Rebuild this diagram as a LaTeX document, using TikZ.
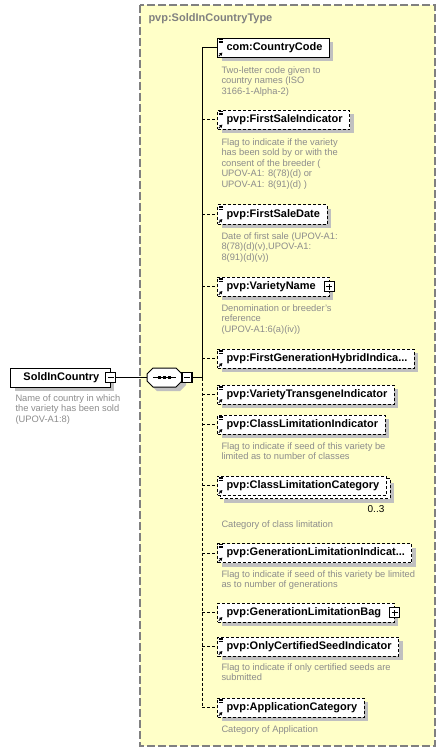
\documentclass[tikz,border=0pt]{standalone}
\usepackage{fontspec}
\setmainfont{Liberation Sans}
\usetikzlibrary{arrows.meta,backgrounds,shadows}
\definecolor{typefill}{HTML}{FFFFC8}
\definecolor{typeline}{HTML}{808080}
\definecolor{notegray}{HTML}{8C8C8C}
\definecolor{shadowgray}{HTML}{C0C0C0}
\newcommand\elfont{\fontsize{8.25}{10}\selectfont\bfseries}
\newcommand\notefont{\fontsize{7}{7.875}\selectfont}
\tikzset{
  shadowed/.style={drop shadow={shadow xshift=3pt,shadow yshift=-3pt,fill=shadowgray,opacity=1}},
  optline/.style={dash pattern=on 2.25pt off 1.5pt},
  elbox/.style={draw,fill=white,line width=0.75pt,minimum height=14.25pt,inner ysep=0pt,inner xsep=5.25pt,anchor=west,font=\elfont,execute at begin node={\hspace*{1.5pt}}},
  elem/.style={elbox,shadowed},
  optelem/.style={elem,optline},
  note/.style={anchor=north west,inner sep=0pt,align=left,font=\notefont,text=notegray},
  togglebox/.style={rectangle,draw,fill=white,line width=1pt,minimum size=7.5pt,inner sep=0pt},
  minusbox/.style={togglebox,path picture={\draw[line width=0.8pt] ([xshift=-2.25pt]path picture bounding box.center) -- ([xshift=2.25pt]path picture bounding box.center);}},
  plusbox/.style={togglebox,path picture={\draw[line width=0.8pt] ([xshift=-2.25pt]path picture bounding box.center) -- ([xshift=2.25pt]path picture bounding box.center) ([yshift=-2.25pt]path picture bounding box.center) -- ([yshift=2.25pt]path picture bounding box.center);}},
}

\begin{document}
\begin{tikzpicture}[x=0.75pt,y=-0.75pt,line width=0.75pt]
		\useasboundingbox (0,0) rectangle (446,752);
		
		% complex type frame
		\begin{scope}[on background layer]
			\draw[fill=typefill,draw=typeline,line width=1.2pt,dash pattern=on 6pt off 2.25pt] (140,5) rectangle (435,746);
		\end{scope}
		\node[anchor=west,inner sep=0pt,font=\elfont,text=typeline] (typename) at (148,19) {pvp:SoldInCountryType};
		
		% root element
		\node[elem,execute at begin node={\hspace*{3pt}}] (root) at (10,377.5) {SoldInCountry\hspace*{3pt}};
		\node[minusbox] (rootmin) at (root.east) {};
		\node[note] (rootdoc) at (15,394) {Name of country in which\\the variety has been sold\\(UPOV-A1:8)};
		
		% sequence
		\coordinate (seq) at (164.5,377.5);
		\coordinate (seqin) at (147,377.5);
		\coordinate (seqout) at (182,377.5);
		\draw[fill=white,shadowed] (seq) ++(-11.5,-9.5) -- ++(23,0) -- ++(6,6) -- ++(0,7) -- ++(-6,6) -- ++(-23,0) -- ++(-6,-6) -- ++(0,-7) -- cycle;
		\draw (seq) +(-11.5,0) -- +(11.5,0);
		\foreach \d in {-5,0,5}
			\fill (seq) +(\d-1.3,-1.3) rectangle +(\d+1.3,1.3);
		\node[minusbox] (seqmin) at ([xshift=3.75pt]seqout) {};
		\coordinate (bus) at (202,377.5);
		
		% child elements
		\node[elem] (el1) at (217,48) {com:CountryCode};
		\node[optelem] (el2) at (217,120) {pvp:FirstSaleIndicator};
		\node[optelem] (el3) at (217,214.5) {pvp:FirstSaleDate};
		\node[optelem] (el4) at (217,286.5) {pvp:VarietyName\hspace*{5pt}};
		\node[optelem] (el5) at (217,358.5) {pvp:FirstGenerationHybridIndica...};
		\node[optelem] (el6) at (217,394.5) {pvp:VarietyTransgeneIndicator};
		\node[optelem] (el7) at (217,424.5) {pvp:ClassLimitationIndicator};
		\node[elbox,optline] (el8) at (217,485.5) {pvp:ClassLimitationCategory};
		\begin{scope}[on background layer]
			\draw[optline,fill=white,shadowed] ([shift={(3,3)}]el8.north west) rectangle ([shift={(3,3)}]el8.south east);
		\end{scope}
		\node[optelem] (el9) at (217,553) {pvp:GenerationLimitationIndicat...};
		\node[optelem] (el10) at (217,612.5) {pvp:GenerationLimitationBag\hspace*{4.5pt}};
		\node[optelem] (el11) at (217,646.5) {pvp:OnlyCertifiedSeedIndicator};
		\node[optelem] (el12) at (217,707.5) {pvp:ApplicationCategory};
		
		\node[plusbox] (el4plus) at ([xshift=-0.5pt]el4.east) {};
		\node[plusbox] (el10plus) at (el10.east) {};
		\node[anchor=center,inner sep=0pt,font=\fontsize{7.5}{9}\selectfont] (el8occ) at (376,509) {0..3};
		
		% icons
		\foreach \i in {1,...,12}
			\draw[-{Triangle[length=2.2pt,width=2.4pt]},line width=0.7pt] ([shift={(1.8,-1.8)}]el\i.south west) -- ++(3.6,-3.6);
		\foreach \i in {1,2,3,4,5,6,7,8,9,11,12}
			\foreach \k in {1.6,3.1,4.6}
				\draw[line width=0.55pt] ([shift={(1.5,\k)}]el\i.north west) -- ++(4.5,0);
		
		% descriptions
		\node[note] (doc1) at (221,66) {Two-letter code given to\\country names (ISO\\3166-1-Alpha-2)};
		\node[note] (doc2) at (221,138) {Flag to indicate if the variety\\has been sold by or with the\\consent of the breeder (\\UPOV-A1: 8(78)(d) or\\UPOV-A1: 8(91)(d) )};
		\node[note] (doc3) at (221,232) {Date of first sale (UPOV-A1:\\8(78)(d)(v),UPOV-A1:\\8(91)(d)(v))};
		\node[note] (doc4) at (221,304) {Denomination or breeder's\\reference\\(UPOV-A1:6(a)(iv))};
		\node[note] (doc7) at (221,442) {Flag to indicate if seed of this variety be\\limited as to number of classes};
		\node[note] (doc8) at (221,520) {Category of class limitation};
		\node[note] (doc9) at (221,570) {Flag to indicate if seed of this variety be limited\\as to number of generations};
		\node[note] (doc11) at (221,663) {Flag to indicate if only certified seeds are\\submitted};
		\node[note] (doc12) at (221,725) {Category of Application};
		
		% connectors
		\draw (rootmin.east) -- (seqin);
		\draw (seqmin.east) -- (bus);
		\draw (bus |- el1.west) -- (bus);
		\draw[optline] (bus) -- (bus |- el12.west);
		\draw (bus |- el1.west) -- (el1.west);
		\foreach \i in {2,...,12}
			\draw[optline] (bus |- el\i.west) -- (el\i.west);
	\end{tikzpicture}
\end{document}
